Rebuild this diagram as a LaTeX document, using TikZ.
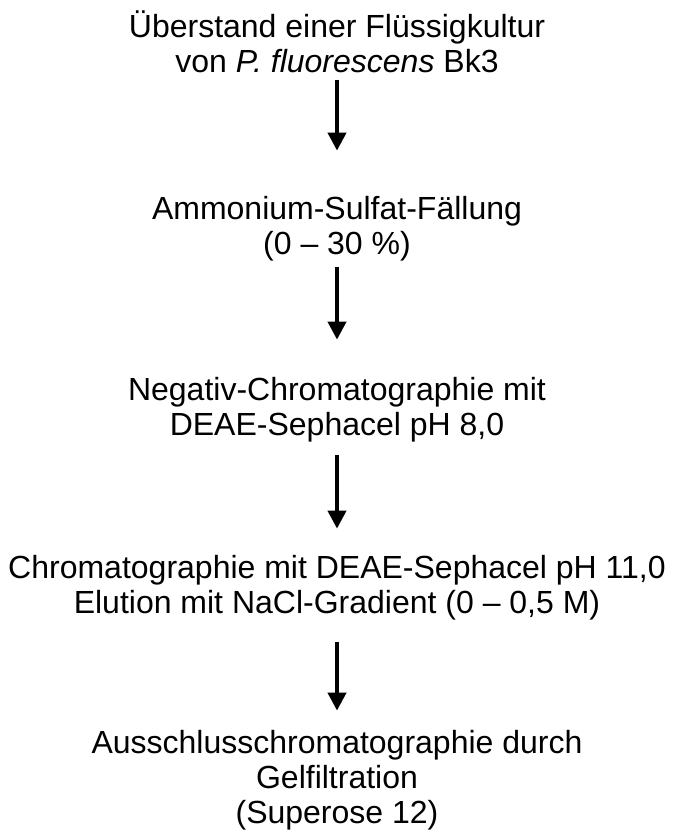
\documentclass[tikz,border=0pt]{standalone}
\usepackage{fontspec}
\setmainfont{Liberation Sans}
\usetikzlibrary{arrows.meta, positioning}

\begin{document}
\begin{tikzpicture}[x=1pt, y=1pt,
    stepbox/.style={align=center, inner sep=0pt, anchor=base, font=\fontsize{32}{35}\selectfont},
    arr/.style={-{Triangle[width=18pt, length=18pt]}, line width=4pt}]

\useasboundingbox (0,0) rectangle (675,-834);

% Steps of the purification (anchor = baseline of last line)
\node[stepbox] (s1) at (337,-73) {Überstand einer Flüssigkultur\\von \textit{P. fluorescens} Bk3};
\node[stepbox] (s2) at (337,-254) {Ammonium-Sulfat-Fällung\\(0 -- 30 \%)};
\node[stepbox] (s3) at (337,-435) {Negativ-Chromatographie mit\\DEAE-Sephacel pH 8,0};
\node[stepbox] (s4) at (337,-613) {Chromatographie mit DEAE-Sephacel pH 11,0\\Elution mit NaCl-Gradient (0 -- 0,5 M)};
\node[stepbox] (s5) at (337,-823) {Ausschlusschromatographie durch\\Gelfiltration\\(Superose 12)};

% Arrows
\draw[arr, shorten <=6pt, shorten >=45pt] (s1) -- (s2);
\draw[arr, shorten <=6pt, shorten >=37pt] (s2) -- (s3);
\draw[arr, shorten <=13pt, shorten >=26pt] (s3) -- (s4);
\draw[arr, shorten <=22pt, shorten >=19pt] (s4) -- (s5);

\end{tikzpicture}
\end{document}
